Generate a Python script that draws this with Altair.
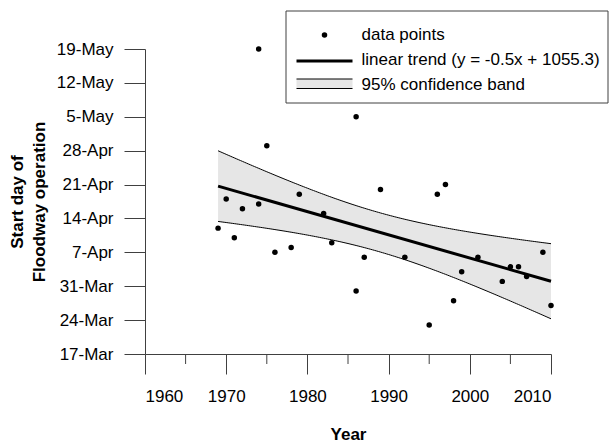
import json
import altair as alt
import numpy as np
import pandas as pd

# ---- data ----
years = [1969, 1970, 1971, 1972, 1974, 1974, 1975, 1976, 1978, 1979, 1982, 1983,
         1986, 1986, 1987, 1989, 1992, 1995, 1996, 1997, 1998, 1999, 2001, 2004,
         2005, 2006, 2007, 2009, 2010]
# start day as day-of-year (17-Mar = 76)
start_days = [102, 108, 100, 106, 107, 139, 119, 97, 98, 109, 105, 99,
              125, 89, 96, 110, 96, 82, 109, 111, 87, 93, 96, 91,
              94, 94, 92, 97, 86]

y_tick_values = [76, 83, 90, 97, 104, 111, 118, 125, 132, 139]
y_tick_labels = ["17-Mar", "24-Mar", "31-Mar", "7-Apr", "14-Apr", "21-Apr",
                 "28-Apr", "5-May", "12-May", "19-May"]
x_major_ticks = [1960, 1970, 1980, 1990, 2000, 2010]
x_minor_ticks = [1965, 1975, 1985, 1995, 2005]

legend_labels = ["data points", "linear trend (y = -0.5x + 1055.3)", "95% confidence band"]

# ---- regression + 95% confidence band computed from the points ----
x = np.array(years, float)
y = np.array(start_days, float)
n = len(x)
slope, intercept = np.polyfit(x, y, 1)
resid = y - (intercept + slope * x)
s = np.sqrt(np.sum(resid ** 2) / (n - 2))
t_crit = 2.0518  # t(0.975, df=27)
sxx = np.sum((x - x.mean()) ** 2)
grid = np.linspace(x.min(), x.max(), 165)
fit = intercept + slope * grid
half = t_crit * s * np.sqrt(1.0 / n + (grid - x.mean()) ** 2 / sxx)
band = pd.DataFrame({"year": grid, "lo": fit - half, "hi": fit + half})

pts = pd.DataFrame({"year": years, "day": start_days})
minor = pd.DataFrame({"year": x_minor_ticks})
one = pd.DataFrame({"a": [0]})

FONT = "Liberation Sans"
AX = "#404040"

label_expr = json.dumps(y_tick_labels) + "[round((datum.value - 76) / 7)]"

xs = alt.Scale(domain=[1960, 2010], nice=False, zero=False)
ys = alt.Scale(domain=[76, 139], nice=False, zero=False)
x_axis = alt.Axis(values=x_major_ticks, format="d", tickSize=20, labelPadding=14,
                  title="Year", titlePadding=22)
y_axis = alt.Axis(values=y_tick_values, labelExpr=label_expr, tickSize=21,
                  labelPadding=11, title=["Start day of", "Floodway operation"],
                  titlePadding=8, titleLineHeight=22)

X = lambda f: alt.X(f, type="quantitative", scale=xs, axis=x_axis)
Y = lambda f: alt.Y(f, type="quantitative", scale=ys, axis=y_axis)

area = alt.Chart(band).mark_area(color="#e6e6e6").encode(
    x=X("year"), y=Y("lo"), y2="hi")
hi_line = alt.Chart(band).mark_line(color="black", strokeWidth=1).encode(
    x=X("year"), y=Y("hi"))
lo_line = alt.Chart(band).mark_line(color="black", strokeWidth=1).encode(
    x=X("year"), y=Y("lo"))
trend = alt.Chart(pts).transform_regression("year", "day").mark_line(
    color="black", strokeWidth=3).encode(x=X("year"), y=Y("day"))
dots = alt.Chart(pts).mark_circle(color="black", opacity=1, size=30).encode(
    x=X("year"), y=Y("day"))
minor_ticks = alt.Chart(minor).mark_rule(color=AX, strokeWidth=1).encode(
    x=X("year"), y=alt.value(305), y2=alt.value(315))

# ---- legend box ----
leg_box = alt.Chart(one).mark_rect(fill="white", stroke=AX, strokeWidth=1).encode(
    x=alt.value(141), x2=alt.value(463), y=alt.value(-38), y2=alt.value(54))
leg_dot = alt.Chart(one).mark_circle(color="black", opacity=1, size=30).encode(
    x=alt.value(179.5), y=alt.value(-14))
leg_line = alt.Chart(one).mark_rule(color="black", strokeWidth=3).encode(
    x=alt.value(151.5), x2=alt.value(207.5), y=alt.value(12))
leg_band = alt.Chart(one).mark_rect(fill="#e6e6e6").encode(
    x=alt.value(151.5), x2=alt.value(207.5), y=alt.value(30), y2=alt.value(39.5))
leg_band_top = alt.Chart(one).mark_rule(color="black", strokeWidth=1).encode(
    x=alt.value(151.5), x2=alt.value(207.5), y=alt.value(30))
leg_band_bot = alt.Chart(one).mark_rule(color="black", strokeWidth=1).encode(
    x=alt.value(151.5), x2=alt.value(207.5), y=alt.value(39.5))
leg_texts = [
    alt.Chart(one).mark_text(align="left", baseline="alphabetic", font=FONT,
                             fontSize=17, color="black").encode(
        x=alt.value(216.5), y=alt.value(yy), text=alt.value(lbl))
    for lbl, yy in zip(legend_labels, [-9.5, 16, 41])
]

chart = alt.layer(
    area, hi_line, lo_line, trend, dots, minor_ticks,
    leg_box, leg_dot, leg_line, leg_band, leg_band_top, leg_band_bot, *leg_texts
).properties(
    width=406, height=305,
    padding={"left": 145, "top": 49, "right": 58, "bottom": 91},
    autosize="none",
).configure_view(stroke=None).configure_axis(
    grid=False, domainColor=AX, tickColor=AX, domainWidth=1, tickWidth=1,
    labelColor="black", labelFont=FONT, labelFontSize=17,
    titleColor="black", titleFont=FONT, titleFontSize=17, titleFontWeight="bold",
)

chart.save("out.html", embed_options={"renderer": "svg", "actions": False})
